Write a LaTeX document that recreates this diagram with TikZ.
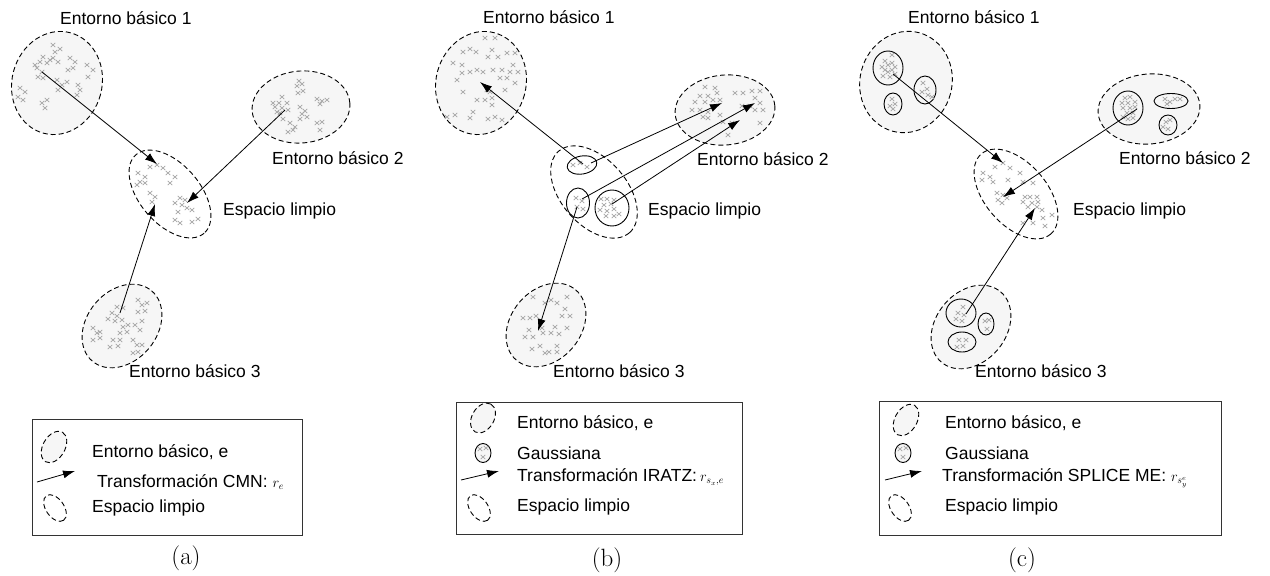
\documentclass[tikz,border=0pt]{standalone}
\usepackage{fontspec}
\newfontfamily\arial{Liberation Sans}
\usetikzlibrary{arrows.meta}

\tikzset{
  env/.style={draw=black, dash pattern=on 5pt off 3pt, line width=0.9pt, fill=gray!7},
  clean/.style={draw=black, dash pattern=on 5pt off 3pt, line width=0.9pt},
  gauss/.style={draw=black, line width=0.9pt},
  tr/.style={draw=black, line width=0.8pt, -{Latex[length=12pt,width=8pt]}},
  lbl/.style={anchor=west, inner sep=0pt, font=\arial\fontsize{17.5}{20}\selectfont},
  subcap/.style={inner sep=0pt, font=\fontsize{25}{28}\selectfont},
  crossline/.style={draw=gray!70, line width=0.7pt},
  xm/.pic={\draw[crossline] (-2.3,-2.1) -- (2.3,2.1) (-2.3,2.1) -- (2.3,-2.1);},
  legbox/.style={draw=black!80, line width=0.9pt},
}
\newcommand\xmarks[1]{\foreach \px/\py in {#1} {\pic at (\px,\py) {xm};}}
\newcommand\rsym[1]{{\fontsize{14}{16}\selectfont$#1$}}

\begin{document}
\begin{tikzpicture}[x=1pt, y=-1pt]
\useasboundingbox (0,0) rectangle (1270,576);

% ---------------- (a) CMN ----------------
\draw[env, shift={(57,83)}, rotate=-15] (0,0) ellipse [x radius=45, y radius=52];
\draw[env, shift={(301,107)}, rotate=5] (0,0) ellipse [x radius=49, y radius=36];
\draw[clean, shift={(170,194)}, rotate=-49] (0,0) ellipse [x radius=52, y radius=30];
\draw[env, shift={(122,326)}, rotate=50] (0,0) ellipse [x radius=46, y radius=35];

\xmarks{53/45,60/49,55/52,43/57,50/60,40/62,35/65,47/63,53/58,58/62,70/58,75/62,68/70,73/68,87/65,93/70,88/77,37/68,42/72,38/77,43/78,57/80,62/85,67/82,78/85,80/90,77/95,20/88,25/92,18/97,23/100,42/103,47/100,45/108,58/90}
\xmarks{299/81,302/84,297/86,303/91,298/93,282/97,287/103,273/103,279/103,275/107,282/108,277/112,280/113,288/110,283/119,290/123,295/127,288/132,293/130,300/107,305/111,302/114,300/119,307/117,317/99,322/101,327/100,320/104,317/123,322/122,320/130}
\xmarks{150/167,157/165,163/168,138/173,145/177,140/182,145/183,137/185,168/173,175/177,170/183,150/193,155/197,152/202,180/198,185/200,175/203,182/205,187/208,192/210,178/212,175/220,180/223,192/222,198/219}
\xmarks{117/307,123/308,112/313,117/316,108/319,115/321,122/320,138/300,142/305,147/303,138/312,145/311,142/321,135/325,128/325,123/327,120/333,127/332,140/330,93/328,97/333,100/332,93/340,100/338,113/340,120/340,110/347,118/346,133/340,137/345,142/345,133/353,138/352}

\coordinate (a-e1) at (42,72);   \coordinate (a-c1) at (157,164);
\coordinate (a-e2) at (285,110); \coordinate (a-c2) at (187,203);
\coordinate (a-e3) at (120,313); \coordinate (a-c3) at (155,204);
\draw[tr] (a-e1) -- (a-c1);
\draw[tr] (a-e2) -- (a-c2);
\draw[tr] (a-e3) -- (a-c3);

\node[lbl] (a-l1) at (60,18) {Entorno básico 1};
\node[lbl] (a-l2) at (272,158) {Entorno básico 2};
\node[lbl] (a-lc) at (223,211) {Espacio limpio};
\node[lbl] (a-l3) at (129,371) {Entorno básico 3};

% legend (a)
\draw[legbox] (32,419) rectangle (302,535);
\draw[env, shift={(54,447)}, rotate=60] (0,0) ellipse [x radius=17, y radius=11];
\node[lbl] (a-k1) at (92,452) {Entorno básico, e};
\coordinate (a-ks) at (37,482); \coordinate (a-ke) at (75,471);
\draw[tr] (a-ks) -- (a-ke);
\node[lbl] (a-k2) at (97,482) {Transformación CMN: \rsym{r_e}};
\draw[clean, shift={(55,508)}, rotate=-55] (0,0) ellipse [x radius=15, y radius=9];
\node[lbl] (a-k3) at (92,508) {Espacio limpio};
\node[subcap] (a-cap) at (186,558) {(a)};

% ---------------- (b) IRATZ ----------------
\draw[env, shift={(481,83)}, rotate=-15] (0,0) ellipse [x radius=45, y radius=52];
\draw[env, shift={(725,110)}, rotate=5] (0,0) ellipse [x radius=50, y radius=35];
\draw[clean, shift={(594,192)}, rotate=-49] (0,0) ellipse [x radius=54, y radius=33];
\draw[env, shift={(546,325)}, rotate=50] (0,0) ellipse [x radius=46, y radius=35];

\draw[gauss, shift={(582,165)}, rotate=10] (0,0) ellipse [x radius=15, y radius=9];
\draw[gauss] (578,203) ellipse [x radius=11.5, y radius=15];
\draw[gauss] (612,208) ellipse [x radius=17, y radius=18];

\xmarks{485/38,495/38,463/52,470/49,476/52,492/50,488/57,498/57,507/53,515/53,453/63,462/65,462/73,470/72,477/70,483/72,493/70,502/70,510/72,518/72,513/65,500/78,507/78,515/83,457/80,463/92,487/90,490/92,505/90,477/100,485/100,492/98,492/105,473/112,447/117,455/115,470/118,488/119,495/117,502/120}
\xmarks{705/87,715/88,700/96,708/96,717/93,695/102,705/102,713/100,720/100,692/110,700/110,708/112,713/107,703/117,708/118,735/93,743/93,752/91,760/91,755/98,742/106,750/106,760/103,755/110,763/110,723/122,732/123,760/123,728/135,720/115}
\xmarks{573/165,580/163,587/167,576/198,582/201,577/207,583/209,601/199,607/199,614/200,604/205,611/204,600/210,607/211,614/209,606/216,614/216,619/214}
\xmarks{533/297,545/303,551/300,557/303,567/297,565/309,523/318,530/318,536/316,562/316,570/316,529/330,525/337,533/337,542/328,543/333,551/333,559/334,555/327,567/328,532/349,540/346,545/353,549/352,557/346,557/352}

\coordinate (b-g1) at (583,164); \coordinate (b-e1) at (480,82);
\coordinate (b-g1r) at (591,163); \coordinate (b-e2a) at (722,103);
\coordinate (b-g2) at (582,199); \coordinate (b-e2b) at (755,103);
\coordinate (b-g3) at (612,204); \coordinate (b-e2c) at (740,120);
\coordinate (b-g2d) at (577,207); \coordinate (b-e3) at (538,331);
\draw[tr] (b-g1) -- (b-e1);
\draw[tr] (b-g1r) -- (b-e2a);
\draw[tr] (b-g2) -- (b-e2b);
\draw[tr] (b-g3) -- (b-e2c);
\draw[tr] (b-g2d) -- (b-e3);

\node[lbl] (b-l1) at (483,17) {Entorno básico 1};
\node[lbl] (b-l2) at (697,159) {Entorno básico 2};
\node[lbl] (b-lc) at (648,211) {Espacio limpio};
\node[lbl] (b-l3) at (553,371) {Entorno básico 3};

% legend (b)
\draw[legbox] (456,402) rectangle (742,534);
\draw[env, shift={(483,418)}, rotate=60] (0,0) ellipse [x radius=16, y radius=11];
\node[lbl] (b-k1) at (517,423) {Entorno básico, e};
\draw[gauss, fill=gray!7] (483,453) ellipse [x radius=8, y radius=9.5];
\xmarks{480/449,486/448,483/457}
\node[lbl] (b-k2) at (517,453) {Gaussiana};
\coordinate (b-ks) at (461,480); \coordinate (b-ke) at (499,471);
\draw[tr] (b-ks) -- (b-ke);
\node[lbl] (b-k3) at (517,477) {Transformación IRATZ:\,\rsym{r_{s_x,e}}};
\draw[clean, shift={(479,508)}, rotate=-55] (0,0) ellipse [x radius=15, y radius=9];
\node[lbl] (b-k4) at (517,507) {Espacio limpio};
\node[subcap] (b-cap) at (607,560) {(b)};

% ---------------- (c) SPLICE ME ----------------
\draw[env, shift={(906,82)}, rotate=-15] (0,0) ellipse [x radius=46, y radius=51];
\draw[env, shift={(1149,109)}, rotate=5] (0,0) ellipse [x radius=51, y radius=35];
\draw[clean, shift={(1016,194)}, rotate=-49] (0,0) ellipse [x radius=53, y radius=31];
\draw[env, shift={(971,327)}, rotate=50] (0,0) ellipse [x radius=46, y radius=35];

\draw[gauss] (888,68) ellipse [x radius=15, y radius=17];
\draw[gauss] (925,90) ellipse [x radius=11, y radius=14];
\draw[gauss] (893,104) ellipse [x radius=9, y radius=11];
\draw[gauss] (1128,108) ellipse [x radius=15, y radius=17];
\draw[gauss] (1171,101) ellipse [x radius=17, y radius=7.5];
\draw[gauss] (1168,125) ellipse [x radius=9, y radius=10];
\draw[gauss] (961,313) ellipse [x radius=15, y radius=14];
\draw[gauss] (986,324) ellipse [x radius=8, y radius=11];
\draw[gauss] (962,342) ellipse [x radius=14, y radius=10];

\xmarks{892/55,885/61,892/63,882/67,888/65,895/67,885/70,892/70,883/76,890/77,895/74,888/72,923/83,927/89,922/92,928/95,932/97,892/99,895/104,890/106,893/109}
\xmarks{1125/98,1130/97,1122/103,1128/103,1135/102,1123/108,1130/108,1135/107,1127/113,1133/113,1128/119,1133/118,1123/117,1165/99,1170/102,1175/99,1180/99,1167/104,1166/122,1170/120,1163/127,1168/129}
\xmarks{995/167,1003/163,1010/168,983/173,990/177,982/180,993/182,1008/180,1020/173,1023/182,1033/183,997/193,1003/195,998/200,1007/198,1002/203,1025/197,1030/197,1037/197,1023/202,1032/203,1038/202,1028/207,1037/207,1042/210,1052/215,1043/218,1023/223,1033/223,1045/226}
\xmarks{963/307,958/313,964/315,956/319,962/321,985/321,989/320,987/329,959/340,966/340,957/347,963/346}

\coordinate (c-g1) at (893,74);    \coordinate (c-c1) at (1003,163);
\coordinate (c-g4) at (1137,109);  \coordinate (c-c2) at (1003,197);
\coordinate (c-g7) at (966,314);   \coordinate (c-c3) at (1035,208);
\draw[tr] (c-g1) -- (c-c1);
\draw[tr] (c-g4) -- (c-c2);
\draw[tr] (c-g7) -- (c-c3);

\node[lbl] (c-l1) at (908,17) {Entorno básico 1};
\node[lbl] (c-l2) at (1119,158) {Entorno básico 2};
\node[lbl] (c-lc) at (1073,211) {Espacio limpio};
\node[lbl] (c-l3) at (975,371) {Entorno básico 3};

% legend (c)
\draw[legbox] (879,401) rectangle (1221,535);
\draw[env, shift={(906,420)}, rotate=60] (0,0) ellipse [x radius=17, y radius=11];
\node[lbl] (c-k1) at (945,423) {Entorno básico, e};
\draw[gauss, fill=gray!7] (903,453) ellipse [x radius=8, y radius=9.5];
\xmarks{900/449,906/448,903/457}
\node[lbl] (c-k2) at (945,453) {Gaussiana};
\coordinate (c-ks) at (885,480); \coordinate (c-ke) at (922,471);
\draw[tr] (c-ks) -- (c-ke);
\node[lbl] (c-k3) at (942,478) {Transformación SPLICE ME: \rsym{r_{s_y^e}}};
\draw[clean, shift={(900,508)}, rotate=-55] (0,0) ellipse [x radius=15, y radius=9];
\node[lbl] (c-k4) at (945,507) {Espacio limpio};
\node[subcap] (c-cap) at (1022,560) {(c)};
\end{tikzpicture}
\end{document}
